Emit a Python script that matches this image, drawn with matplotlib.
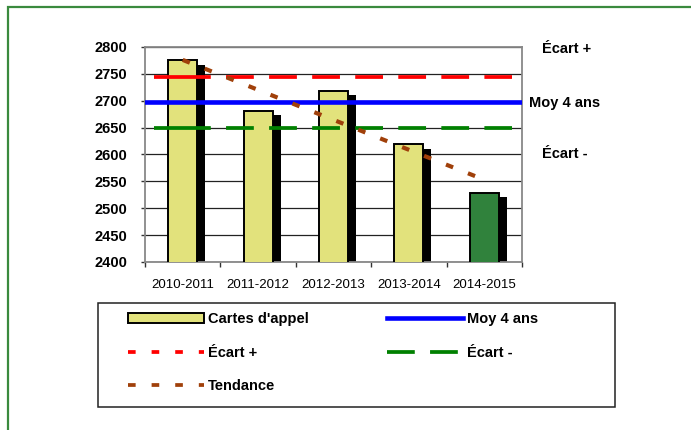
import matplotlib.pyplot as plt
from matplotlib.lines import Line2D
from matplotlib.patches import Patch, Rectangle

plt.rcParams['font.family'] = ['Liberation Sans', 'DejaVu Sans']
plt.rcParams['lines.scale_dashes'] = False

# Données du graphique
saisons = ["2010-2011", "2011-2012", "2012-2013", "2013-2014", "2014-2015"]
cartes_appel = [2775, 2681, 2719, 2619, 2528]
moy_4_ans = 2698
ecart_plus = 2745
ecart_moins = 2650
tendance = [2776, 2553]          # début et fin de la droite de tendance
y_ticks = [2400, 2450, 2500, 2550, 2600, 2650, 2700, 2750, 2800]

JAUNE = "#E2E27C"
VERT_BARRE = "#30823C"
BRUN = "#A0400A"

fig = plt.figure(figsize=(6.91, 4.30), dpi=100)
W, H = 691, 430

ax = fig.add_axes([145 / W, 1 - 262 / H, 377 / W, 215 / H])
x = list(range(len(saisons)))

# Ombres des barres puis barres
couleurs = [JAUNE] * 4 + [VERT_BARRE]
ax.bar([i + 0.106 for i in x], [v - 8 for v in cartes_appel], width=0.385,
       bottom=0, color="black", zorder=2)
ax.bar(x, cartes_appel, width=0.385, color=couleurs, edgecolor="black",
       linewidth=1.4, zorder=3)

# Moyenne sur 4 ans
ax.axhline(moy_4_ans, color="#0000FF", linewidth=3.3, zorder=5)


# Écarts : un petit segment plein puis le pointillé long
def ligne_ecart(y, couleur):
    ax.plot([-0.38, 0], [y, y], color=couleur, linewidth=2.7,
            solid_capstyle="butt", zorder=4)
    ax.plot([0, 4.37], [y, y], color=couleur, linewidth=2.7,
            dashes=(20, 11), dash_capstyle="butt", zorder=4)


ligne_ecart(ecart_plus, "#FF0000")
ligne_ecart(ecart_moins, "#008000")

# Tendance
ax.plot([0, 4], tendance, color=BRUN, linewidth=3, dashes=(5.5, 11.5),
        dash_capstyle="butt", zorder=6)

# Axes
ax.set_xlim(-0.5, 4.5)
ax.set_ylim(2400, 2800)
ax.set_yticks(y_ticks)
ax.set_yticklabels([str(v) for v in y_ticks], fontsize=10.5, fontweight="bold")
ax.set_xticks(x)
ax.set_xticklabels(saisons, fontsize=9.5)
ax.set_xticks([i - 0.5 for i in range(6)], minor=True)
ax.tick_params(axis="x", which="major", length=0, pad=12)
ax.tick_params(axis="x", which="minor", length=3.5, color="#333333", width=1)
ax.tick_params(axis="y", length=3, color="#333333", width=1, pad=10)
ax.yaxis.grid(True, color="#222222", linewidth=0.9, zorder=0)
ax.set_axisbelow(True)
for s in ax.spines.values():
    s.set_color("#888888")
    s.set_linewidth(1.3)

# Libellés à droite
style_lib = dict(fontsize=10.5, fontweight="bold", va="center", ha="left",
                 clip_on=False)
ax.text(4.765, 2796, "Écart +", **style_lib)
ax.text(4.593, 2696, "Moy 4 ans", **style_lib)
ax.text(4.765, 2601, "Écart -", **style_lib)

# Légende
poignees = [
    Patch(facecolor=JAUNE, edgecolor="black", linewidth=1.4),
    Line2D([], [], color="#FF0000", linewidth=2.7, dashes=(5.5, 11.5), dash_capstyle="butt"),
    Line2D([], [], color=BRUN, linewidth=2.7, dashes=(5.5, 11.5), dash_capstyle="butt"),
    Line2D([], [], color="#0000FF", linewidth=3.3),
    Line2D([], [], color="#008000", linewidth=2.7, dashes=(20, 11), dash_capstyle="butt"),
]
etiquettes = ["Cartes d'appel", "Écart +", "Tendance", "Moy 4 ans", "Écart -"]
fig.legend(poignees, etiquettes, ncol=2, loc="upper left",
           bbox_to_anchor=(128 / W, 1 - 312 / H), frameon=False,
           borderpad=0, borderaxespad=0, handlelength=5.2, handleheight=0.7,
           handletextpad=0.3, labelspacing=1.35, columnspacing=5.35,
           prop={"size": 10.5, "weight": "bold"})

# Cadre de la légende
fig.patches.append(Rectangle((98 / W, 1 - 407 / H), 517 / W, 104 / H,
                             transform=fig.transFigure, fill=False,
                             edgecolor="#222222", linewidth=1.1))

# Cadre vert extérieur
fig.patches.append(Rectangle((8 / W, -0.1), 1.2, 1.1 - 7 / H,
                             transform=fig.transFigure, fill=False,
                             edgecolor="#3A8A3E", linewidth=1.6))

fig.savefig("out.png", dpi=100)
